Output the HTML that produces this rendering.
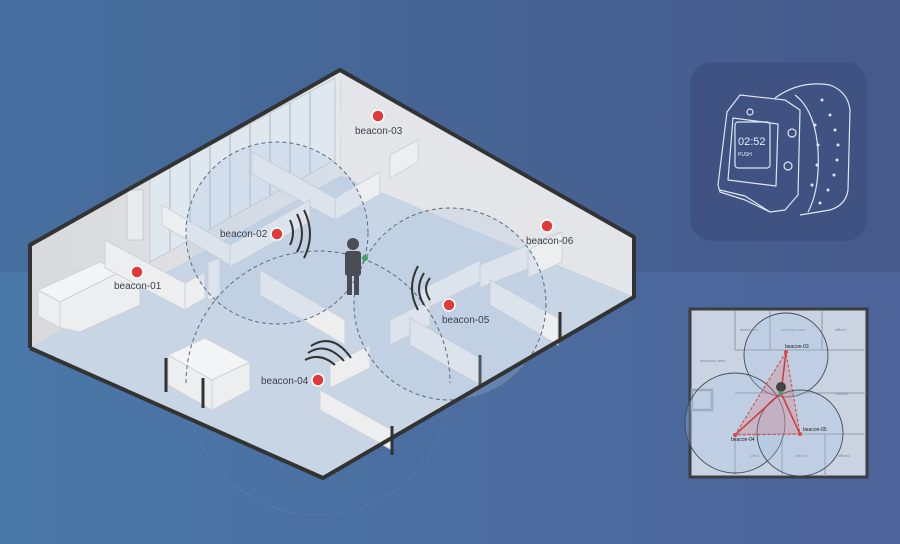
<!DOCTYPE html>
<html><head><meta charset="utf-8"><style>
html,body{margin:0;padding:0;width:900px;height:544px;overflow:hidden}
svg{display:block}
text{font-family:"Liberation Sans",sans-serif}
</style></head><body>
<svg width="900" height="544" viewBox="0 0 900 544" xmlns="http://www.w3.org/2000/svg">
<defs>
<linearGradient id="bgT" x1="0" x2="1" y1="0" y2="0"><stop offset="0" stop-color="#466f9f"/><stop offset="1" stop-color="#465a8b"/></linearGradient>
<linearGradient id="bgB" x1="0" x2="1" y1="0" y2="0"><stop offset="0" stop-color="#4a78a8"/><stop offset="1" stop-color="#4d6399"/></linearGradient>
<linearGradient id="wallL" x1="0" x2="1"><stop offset="0" stop-color="#d8d9dc"/><stop offset="1" stop-color="#e6e7ea"/></linearGradient>
</defs>
<rect width="900" height="272" fill="url(#bgT)"/>
<rect y="272" width="900" height="272" fill="url(#bgB)"/>

<circle cx="318" cy="383" r="132" fill="none" stroke="#7a8aa5" stroke-width="1" stroke-dasharray="4,3" stroke-opacity="0.45"/>

<polygon points="30,348 341,176 634,297 323,478" fill="#c8d5e4"/>
<polygon points="30,245 340,70 341,176 30,348" fill="url(#wallL)"/>
<polygon points="340,70 634,237 634,297 341,176" fill="#e4e5e8"/>
<polygon points="150,178 335,78 335,160 150,262" fill="#dfe7ef" stroke="#c4cbd4" stroke-width="1"/>
<g stroke="#bfc6cf" stroke-width="1.5">
<line x1="170" y1="168" x2="170" y2="250"/><line x1="190" y1="157" x2="190" y2="239"/><line x1="210" y1="146" x2="210" y2="228"/><line x1="230" y1="135" x2="230" y2="217"/><line x1="250" y1="124" x2="250" y2="206"/><line x1="270" y1="113" x2="270" y2="195"/><line x1="290" y1="102" x2="290" y2="184"/><line x1="310" y1="91" x2="310" y2="173"/>
</g>
<rect x="127" y="190" width="16" height="50" fill="#e9ecef" stroke="#c4cbd4"/>

<g fill="#edeef0" stroke="#cfd2d6" stroke-width="1">
<polygon points="252,152 335,198 335,220 252,174"/>
<polygon points="335,198 380,172 380,194 335,220"/>
<polygon points="162,205 230,245 230,265 162,225"/>
<polygon points="230,245 310,200 310,222 230,267"/>
<polygon points="260,270 345,320 345,345 260,295"/>
<polygon points="208,262 208,300 220,295 220,258"/>
<polygon points="390,155 418,140 418,162 390,178"/>
<polygon points="38,290 100,262 120,272 60,302" fill="#f3f4f5"/>
<polygon points="38,290 60,302 60,328 38,316"/>
<polygon points="60,302 120,272 140,282 140,305 80,332 60,328"/>
<polygon points="105,240 185,283 185,310 105,268"/>
<polygon points="185,283 205,272 205,298 185,310"/>
<polygon points="420,290 480,260 480,282 420,312"/>
<polygon points="480,265 560,232 560,256 480,288"/>
<polygon points="528,250 562,232 562,262 528,278"/>
<polygon points="390,320 430,300 430,325 390,345"/>
<polygon points="410,318 480,358 480,385 410,345"/>
<polygon points="490,280 558,318 558,345 490,305"/>
<polygon points="330,365 370,345 370,368 330,388"/>
<polygon points="320,390 392,430 392,450 320,410"/>
<polygon points="168,355 205,338 250,362 212,380" fill="#f3f4f5"/>
<polygon points="168,355 212,380 212,410 168,385"/>
<polygon points="212,380 250,362 250,390 212,410"/>
</g>
<g stroke="#333" stroke-width="3">
<line x1="166" y1="358" x2="166" y2="392"/><line x1="203" y1="378" x2="203" y2="408"/>
<line x1="392" y1="426" x2="392" y2="455"/><line x1="480" y1="355" x2="480" y2="386"/><line x1="560" y1="312" x2="560" y2="340"/>
</g>

<g fill="rgba(170,195,225,0.25)" stroke="#5a6a80" stroke-width="1" stroke-dasharray="4,3">
<circle cx="277" cy="233" r="91"/>
<circle cx="450" cy="304" r="96"/>
</g>
<path d="M186,383 A132,132 0 0 1 450,383" fill="none" stroke="#5a6a80" stroke-width="1" stroke-dasharray="4,3"/>

<polyline points="30,348 30,245 340,70 634,237 634,297 323,478 30,348" fill="none" stroke="#333" stroke-width="4" stroke-linejoin="round"/>

<g fill="none" stroke="#333" stroke-width="2">
<path d="M290,245 q6,-12 0,-25"/><path d="M297,252 q10,-18 0,-38"/><path d="M304,258 q12,-24 0,-48"/>
<path d="M430,300 q-8,-12 0,-22"/><path d="M424,305 q-10,-16 0,-32"/><path d="M418,310 q-12,-22 0,-44"/>
<path d="M305,360 q15,-8 30,5"/><path d="M308,353 q18,-12 36,8"/><path d="M311,346 q22,-14 40,12"/>
</g>

<g fill="#4a4d55">
<circle cx="353" cy="244" r="6"/>
<rect x="345" y="251" width="16" height="25" rx="3"/>
<rect x="347" y="275" width="5" height="20"/><rect x="354" y="275" width="5" height="20"/>
<circle cx="365" cy="258" r="3" fill="#3fa35a"/>
</g>

<g fill="#e03a3a" stroke="#fff" stroke-width="1.5">
<circle cx="137" cy="272" r="6"/><circle cx="277" cy="234" r="6"/><circle cx="378" cy="116" r="6"/>
<circle cx="318" cy="380" r="6"/><circle cx="449" cy="305" r="6"/><circle cx="547" cy="226" r="6"/>
</g>
<g font-size="10" fill="#3a3f48">
<text x="114" y="289">beacon-01</text><text x="220" y="237">beacon-02</text><text x="355" y="134">beacon-03</text>
<text x="261" y="384">beacon-04</text><text x="442" y="323">beacon-05</text><text x="526" y="244">beacon-06</text>
</g>

<rect x="690" y="62" width="177" height="179" rx="22" fill="#3f5282"/>
<g fill="none" stroke="#dfe6f2" stroke-width="1.2" stroke-linejoin="round">
<path d="M775,98 Q800,80 830,85 Q848,92 850,110 L848,190 Q846,205 830,210 L800,215"/>
<path d="M795,95 Q815,110 818,150 Q820,190 808,212"/>
<path d="M740,95 L785,100 L800,110 L798,195 L785,210 L770,212 L745,200 L720,192 L718,185 L727,112 Z"/>
<path d="M733,118 L778,124 L776,186 L728,180 Z"/>
<rect x="735" y="122" width="35" height="46" rx="3"/>
<circle cx="750" cy="112" r="3"/><circle cx="792" cy="133" r="4"/><circle cx="788" cy="166" r="4"/>
<path d="M720,190 L745,196 L770,212"/>
</g>
<g fill="#dfe6f2"><circle cx="822" cy="100" r="1.5"/><circle cx="830" cy="115" r="1.5"/><circle cx="835" cy="130" r="1.5"/><circle cx="838" cy="145" r="1.5"/><circle cx="837" cy="160" r="1.5"/><circle cx="834" cy="175" r="1.5"/><circle cx="828" cy="190" r="1.5"/><circle cx="820" cy="203" r="1.5"/>
<circle cx="815" cy="125" r="1.5"/><circle cx="818" cy="145" r="1.5"/><circle cx="817" cy="165" r="1.5"/><circle cx="812" cy="185" r="1.5"/></g>
<text x="738" y="145" font-size="11" fill="#e8eef8">02:52</text>
<text x="738" y="156" font-size="5" fill="#e8eef8">PUSH</text>

<rect x="690" y="309" width="177" height="168" fill="#c9d3e2" stroke="#3a3d44" stroke-width="3"/>
<g stroke="#9aa4b2" stroke-width="1.2" fill="none">
<line x1="735" y1="311" x2="735" y2="350"/><line x1="770" y1="311" x2="770" y2="350"/><line x1="822" y1="311" x2="822" y2="350"/>
<line x1="735" y1="350" x2="866" y2="350"/><line x1="735" y1="434" x2="866" y2="434"/>
<line x1="735" y1="434" x2="735" y2="476"/><line x1="782" y1="434" x2="782" y2="476"/><line x1="825" y1="434" x2="825" y2="476"/>
<line x1="735" y1="393" x2="866" y2="393"/>
<rect x="692" y="390" width="20" height="20" stroke-width="2.5"/>
</g>
<g font-size="4" fill="#7d8594"><text x="740" y="331">storeroom</text><text x="781" y="331">meeting room</text><text x="835" y="331">office1</text><text x="700" y="362">reception area</text><text x="836" y="395">office2</text><text x="750" y="457">office</text><text x="795" y="457">office4</text><text x="838" y="457">office3</text></g>
<g fill="rgba(170,195,225,0.3)" stroke="#444a55" stroke-width="0.9">
<circle cx="786" cy="355" r="42"/><circle cx="735" cy="423" r="50"/><circle cx="800" cy="433" r="43"/>
</g>
<polygon points="786,352 735,435 800,434" fill="rgba(220,120,130,0.3)" stroke="#d04545" stroke-dasharray="3,2"/>
<g stroke="#d03a3a" stroke-width="1.5"><line x1="786" y1="352" x2="781" y2="393"/><line x1="735" y1="435" x2="781" y2="393"/><line x1="800" y1="434" x2="781" y2="393"/></g>
<circle cx="781" cy="387" r="5" fill="#444"/><circle cx="781" cy="393" r="2" fill="#3fa35a"/>
<g fill="#e04545"><circle cx="786" cy="352" r="2"/><circle cx="735" cy="435" r="2"/><circle cx="800" cy="434" r="2"/></g>
<g font-size="5" fill="#222"><text x="785" y="348">beacon-03</text><text x="731" y="441">beacon-04</text><text x="803" y="431">beacon-05</text></g>
</svg>
</body></html>
